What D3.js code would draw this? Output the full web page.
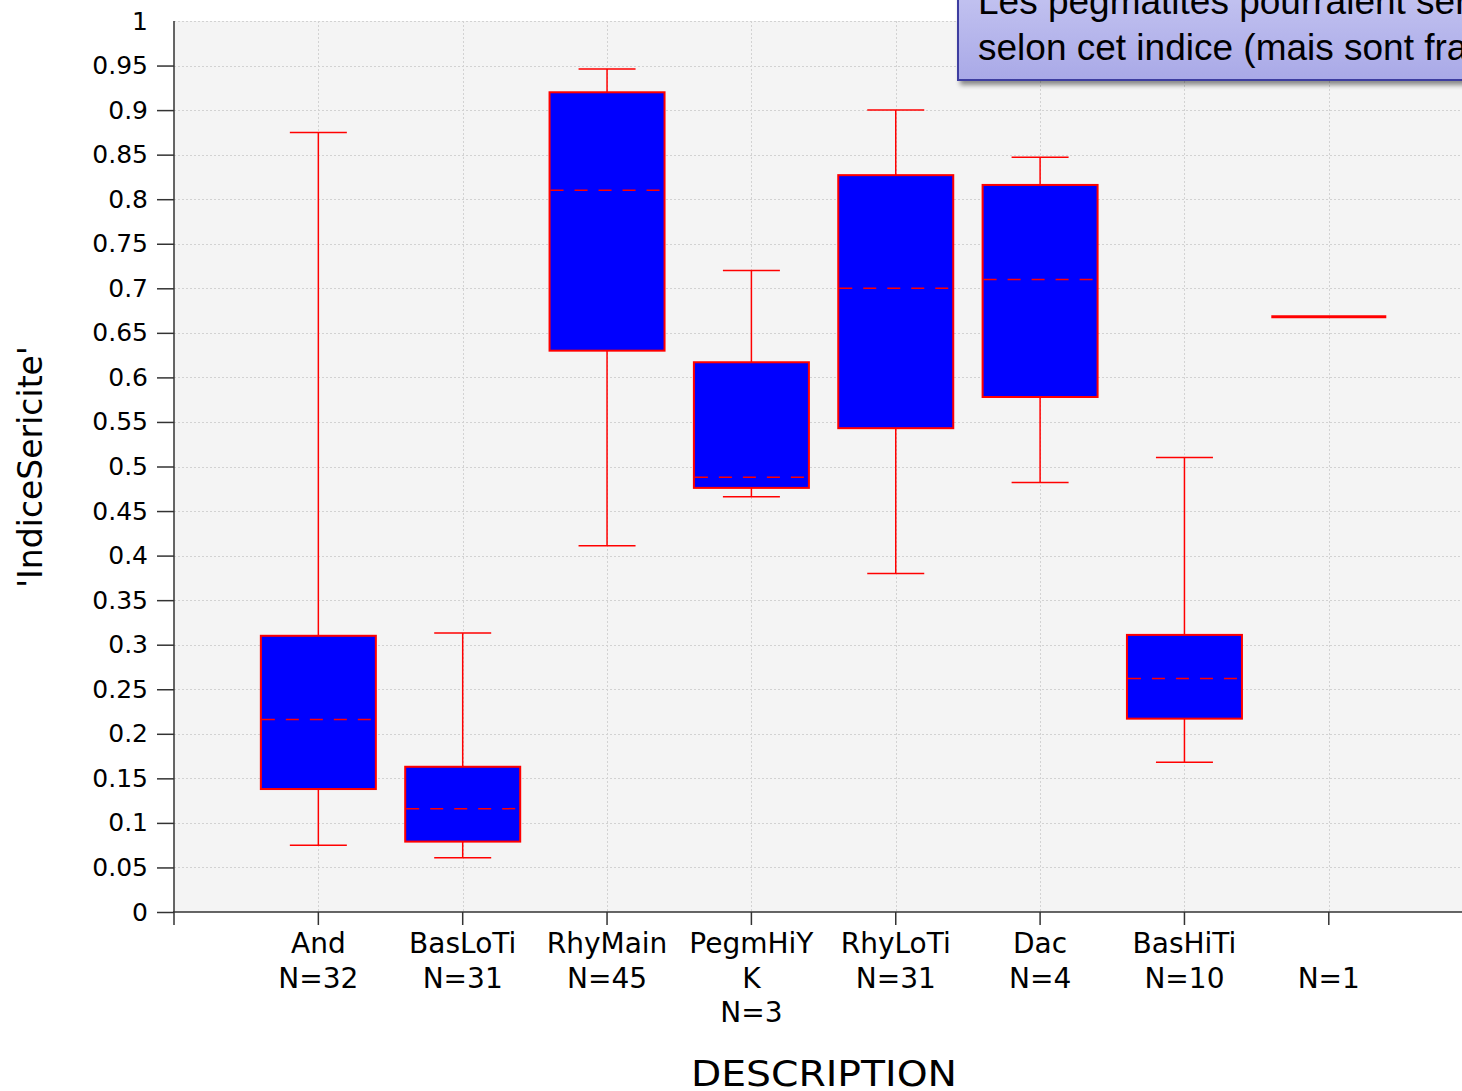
<!DOCTYPE html>
<html>
<head>
<meta charset="utf-8">
<script src="https://cdn.jsdelivr.net/npm/d3@7"></script>
<style>
  html, body { margin: 0; padding: 0; background: #ffffff; overflow: hidden; }
  svg { display: block; }
</style>
</head>
<body>
<svg id="chart" width="1462" height="1091"></svg>
<script>
// Box-plot summary of 'IndiceSericite' per DESCRIPTION group
const categories  = ["And", "BasLoTi", "RhyMain", "PegmHiYK", "RhyLoTi", "Dac", "BasHiTi", ""];
const counts      = [32, 31, 45, 3, 31, 4, 10, 1];
const whiskerLow  = [0.075, 0.061, 0.411, 0.466, 0.380, 0.482, 0.168, 0.668];
const q1          = [0.138, 0.079, 0.630, 0.476, 0.543, 0.578, 0.217, 0.668];
const medians     = [0.216, 0.116, 0.810, 0.488, 0.700, 0.710, 0.262, 0.668];
const q3          = [0.310, 0.163, 0.920, 0.617, 0.827, 0.816, 0.311, 0.668];
const whiskerHigh = [0.875, 0.313, 0.946, 0.720, 0.900, 0.847, 0.510, 0.668];
const yTicks      = d3.range(0, 21).map(i => +(i * 0.05).toFixed(2));
const noteLines   = ["Les pegmatites pourraient servir", "selon cet indice (mais sont fragiles)"];

const W = 1462, H = 1091;
const plotLeft = 174, plotTop = 21, plotBottom = 912, step = 144.35;
const svg = d3.select("#chart");
const FONT = "DejaVu Sans, Verdana, sans-serif";

const x = d3.scaleLinear().domain([0, 9]).range([plotLeft, plotLeft + 9 * step]);
const y = d3.scaleLinear().domain([0, 1]).range([plotBottom, plotTop]);

// plot background
svg.append("rect")
  .attr("x", plotLeft).attr("y", plotTop)
  .attr("width", W - plotLeft + 20).attr("height", plotBottom - plotTop)
  .attr("fill", "#f4f4f4");

// grid
const grid = svg.append("g").attr("stroke", "#d2d2d2").attr("stroke-width", 1)
  .attr("stroke-dasharray", "2,2");
grid.selectAll("line.h").data(yTicks.filter(t => t > 0)).join("line")
  .attr("class", "h")
  .attr("x1", plotLeft).attr("x2", W + 20)
  .attr("y1", d => Math.round(y(d)) + 0.5).attr("y2", d => Math.round(y(d)) + 0.5);
grid.selectAll("line.v").data(categories.map((c, i) => i + 1)).join("line")
  .attr("class", "v")
  .attr("y1", plotTop).attr("y2", plotBottom)
  .attr("x1", d => Math.round(x(d)) + 0.5).attr("x2", d => Math.round(x(d)) + 0.5);

// boxes
const boxW = 115, capW = 57;
const red = "#ff0000";
const groups = svg.append("g").selectAll("g").data(categories.map((c, i) => i)).join("g");
groups.each(function (i) {
  const g = d3.select(this);
  const cx = x(i + 1);
  if (q3[i] === q1[i] && whiskerHigh[i] === whiskerLow[i]) {
    // single observation: only a line at its value
    g.append("line")
      .attr("x1", cx - boxW / 2).attr("x2", cx + boxW / 2)
      .attr("y1", y(medians[i])).attr("y2", y(medians[i]))
      .attr("stroke", red).attr("stroke-width", 3);
    return;
  }
  // whiskers
  g.append("line").attr("x1", cx).attr("x2", cx)
    .attr("y1", y(whiskerHigh[i])).attr("y2", y(q3[i]))
    .attr("stroke", red).attr("stroke-width", 1.5);
  g.append("line").attr("x1", cx).attr("x2", cx)
    .attr("y1", y(q1[i])).attr("y2", y(whiskerLow[i]))
    .attr("stroke", red).attr("stroke-width", 1.5);
  [whiskerHigh[i], whiskerLow[i]].forEach(v => {
    g.append("line").attr("x1", cx - capW / 2).attr("x2", cx + capW / 2)
      .attr("y1", y(v)).attr("y2", y(v))
      .attr("stroke", red).attr("stroke-width", 1.5);
  });
  // box
  g.append("rect")
    .attr("x", cx - boxW / 2).attr("width", boxW)
    .attr("y", y(q3[i])).attr("height", y(q1[i]) - y(q3[i]))
    .attr("fill", "#0000ff").attr("stroke", red).attr("stroke-width", 2);
  // median
  g.append("line")
    .attr("x1", cx - boxW / 2 + 1).attr("x2", cx + boxW / 2 - 1)
    .attr("y1", y(medians[i])).attr("y2", y(medians[i]))
    .attr("stroke", red).attr("stroke-width", 1.5)
    .attr("stroke-dasharray", "13,11");
});

// y axis
const yAxis = svg.append("g")
  .attr("transform", `translate(${plotLeft},0)`)
  .call(d3.axisLeft(y).tickValues(yTicks).tickFormat(d => String(d))
    .tickSize(17).tickPadding(9));
yAxis.select(".domain").remove();
yAxis.selectAll(".tick line").attr("stroke", "#333").attr("stroke-width", 1.5)
  .attr("x2", d => d === 1 ? 0 : -17);
yAxis.selectAll(".tick text").attr("font-family", FONT).attr("font-size", 25)
  .attr("fill", "#000");
svg.append("line").attr("x1", plotLeft).attr("x2", plotLeft)
  .attr("y1", plotTop).attr("y2", plotBottom + 13)
  .attr("stroke", "#333").attr("stroke-width", 1.5);

// x axis
svg.append("line").attr("x1", plotLeft - 1).attr("x2", W + 20)
  .attr("y1", plotBottom).attr("y2", plotBottom)
  .attr("stroke", "#333").attr("stroke-width", 1.5);
const xt = svg.append("g");
xt.selectAll("line").data(categories.map((c, i) => i + 1)).join("line")
  .attr("x1", d => x(d)).attr("x2", d => x(d))
  .attr("y1", plotBottom).attr("y2", plotBottom + 13)
  .attr("stroke", "#333").attr("stroke-width", 1.5);

// category labels with character wrapping when too wide
const maxLabelW = 130;
const labels = svg.append("g").attr("font-family", FONT).attr("font-size", 28)
  .attr("text-anchor", "middle").attr("fill", "#000");
categories.forEach((c, i) => {
  const cx = x(i + 1);
  const lines = [];
  if (c) {
    let cur = "";
    const probe = labels.append("text").attr("visibility", "hidden");
    for (const ch of c) {
      probe.text(cur + ch);
      if (cur && probe.node().getComputedTextLength() > maxLabelW) { lines.push(cur); cur = ch; }
      else cur += ch;
    }
    probe.remove();
    lines.push(cur);
  } else {
    lines.push("");
  }
  lines.push("N=" + counts[i]);
  const t = labels.append("text");
  lines.forEach((l, k) => {
    t.append("tspan").attr("x", cx).attr("y", 953 + k * 34.5).text(l);
  });
});

// axis titles
svg.append("text").attr("x", 824).attr("y", 1086)
  .attr("text-anchor", "middle").attr("font-family", FONT).attr("font-size", 35)
  .attr("textLength", 266).attr("lengthAdjust", "spacingAndGlyphs")
  .attr("fill", "#000").text("DESCRIPTION");
svg.append("text").attr("transform", "translate(42,467) rotate(-90)")
  .attr("text-anchor", "middle").attr("font-family", FONT).attr("font-size", 33)
  .attr("fill", "#000").text("'IndiceSericite'");

// annotation note
const defs = svg.append("defs");
const grad = defs.append("linearGradient").attr("id", "noteFill")
  .attr("x1", 0).attr("y1", 0).attr("x2", 0).attr("y2", 1);
grad.append("stop").attr("offset", "0%").attr("stop-color", "#d2d2f6");
grad.append("stop").attr("offset", "100%").attr("stop-color", "#a9a9e7");
const shadow = defs.append("filter").attr("id", "noteShadow")
  .attr("x", "-10%").attr("y", "-10%").attr("width", "130%").attr("height", "140%");
shadow.append("feGaussianBlur").attr("in", "SourceAlpha").attr("stdDeviation", 2.5).attr("result", "b");
shadow.append("feOffset").attr("in", "b").attr("dx", 3).attr("dy", 4).attr("result", "o");
shadow.append("feComponentTransfer").attr("in", "o").attr("result", "s")
  .append("feFuncA").attr("type", "linear").attr("slope", 0.45);
const mg = shadow.append("feMerge");
mg.append("feMergeNode").attr("in", "s");
mg.append("feMergeNode").attr("in", "SourceGraphic");

const note = svg.append("g");
note.append("rect").attr("x", 958).attr("y", -60).attr("width", 700).attr("height", 140)
  .attr("fill", "url(#noteFill)").attr("stroke", "#3c3ca0").attr("stroke-width", 2)
  .attr("filter", "url(#noteShadow)");
note.selectAll("text").data(noteLines).join("text")
  .attr("x", 978).attr("y", (d, k) => 14 + k * 46)
  .attr("font-family", "Liberation Sans, Arial, sans-serif").attr("font-size", 37)
  .attr("fill", "#000").text(d => d);
</script>
</body>
</html>
